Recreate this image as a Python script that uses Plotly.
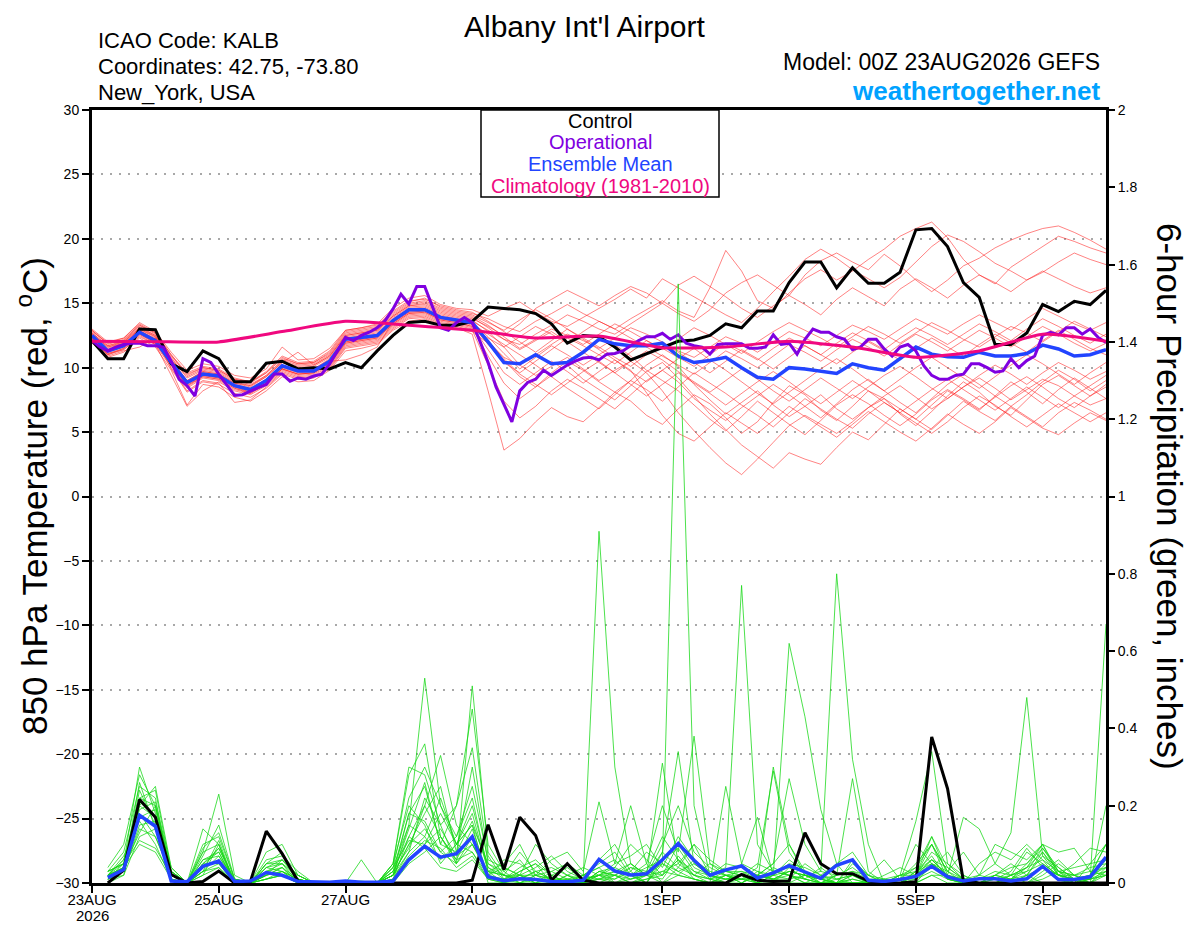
import plotly.graph_objects as go

# ---------------- time axes (hours from 00Z 23AUG2026) ----------------
HOURS_6 = list(range(0, 385, 6))          # 65 steps, temperature
HOURS_PCP = list(range(6, 385, 6))        # 64 steps, 6-hour precip
HOURS_3 = list(range(0, 385, 3))          # 129 steps, operational
HOURS_CLIM = list(range(0, 385, 24))      # daily climatology

TICK_HOURS = [0, 48, 96, 144, 216, 264, 312, 360]
TICK_TEXT = ["23AUG", "25AUG", "27AUG", "29AUG", "1SEP", "3SEP", "5SEP", "7SEP"]
YEAR_TEXT = "2026"
T_TICKS = list(range(-30, 31, 5))
P_TICKS = [0, 0.2, 0.4, 0.6, 0.8, 1.0, 1.2, 1.4, 1.6, 1.8, 2.0]
P_TICKTEXT = ["0", "0.2", "0.4", "0.6", "0.8", "1", "1.2", "1.4", "1.6", "1.8", "2"]

# ---------------- 850 hPa temperature ----------------
CONTROL_T = [12.1, 10.7, 10.7, 13.0, 12.95, 10.3, 9.7, 11.3,
             10.7, 8.9, 8.9, 10.35, 10.5, 9.9, 10.0, 9.9,
             10.4, 10.0, 11.3, 12.5, 13.5, 13.6, 13.3, 13.3,
             13.6, 14.7, 14.6, 14.5, 14.2, 13.4, 11.9, 12.5,
             12.4, 11.6, 10.6, 11.1, 11.6, 12.05, 12.15, 12.5,
             13.4, 13.1, 14.4, 14.4, 16.6, 18.2, 18.2, 16.2,
             17.75, 16.55, 16.55, 17.4, 20.7, 20.8, 19.4, 16.6,
             15.45, 11.8, 11.8, 12.7, 14.9, 14.35, 15.15, 14.9,
             16.0]

MEAN_T = [12.5, 11.3, 11.7, 12.75, 12.1, 10.4, 8.85, 9.5,
          9.35, 8.6, 8.3, 9.0, 10.15, 9.75, 9.75, 10.5,
          12.2, 12.35, 12.5, 13.65, 14.5, 14.5, 13.9, 13.7,
          13.5, 12.0, 10.4, 10.3, 11.0, 10.3, 10.4, 11.2,
          12.2, 11.85, 11.7, 11.7, 11.9, 10.9, 10.4, 10.55,
          10.8, 10.0, 9.25, 9.1, 10.0, 9.9, 9.75, 9.55,
          10.3, 10.0, 9.8, 10.7, 11.6, 11.05, 10.85, 10.8,
          11.2, 10.9, 10.9, 11.1, 11.75, 11.45, 10.9, 11.0,
          11.4]

OPER_T = [12.1, 11.6, 11.3, 11.6, 11.8, 11.9, 11.9, 11.7,
          11.7, 11.6, 10.5, 9.1, 8.6, 7.8, 10.7, 10.4,
          9.5, 8.7, 7.85, 7.9, 8.2, 8.45, 8.7, 9.5,
          9.5, 8.95, 9.2, 9.1, 9.35, 9.5, 10.3, 11.3,
          12.35, 12.1, 12.5, 12.75, 13.1, 13.65, 14.56, 15.7,
          14.95, 16.3, 16.3, 14.7, 13.1, 12.9, 13.5, 13.9,
          13.5, 12.0, 10.4, 8.5, 7.2, 5.8, 8.2, 8.85,
          9.1, 9.8, 9.4, 9.8, 10.2, 10.5, 10.75, 10.8,
          10.6, 11.05, 11.1, 11.3, 11.7, 12.1, 12.4, 12.4,
          12.67, 12.2, 12.55, 11.9, 11.7, 11.6, 11.05, 11.8,
          11.85, 11.85, 11.85, 11.5, 11.5, 11.6, 12.55, 11.8,
          11.9, 11.05, 12.2, 13.0, 12.75, 12.75, 12.4, 12.2,
          11.4, 11.6, 12.2, 12.2, 11.45, 10.9, 11.6, 11.8,
          11.3, 10.15, 9.4, 9.1, 9.1, 9.4, 9.5, 10.3,
          10.3, 10.0, 9.65, 9.75, 10.7, 10.0, 10.55, 10.9,
          12.5, 12.75, 12.55, 13.1, 13.1, 12.6, 13.0, 12.35,
          11.95]

CLIM_T = [12.05, 12.02, 12.0, 12.8, 13.6, 13.3, 12.9, 12.3, 12.45,
          11.55, 11.6, 12.05, 11.6, 10.8, 11.3, 12.6, 12.05]

T_M01 = [12.9, 11.8, 12.2, 13.3, 12.6, 10.9, 9.5, 10.0, 9.8, 9.1, 8.8, 9.6, 10.8, 10.3, 10.4, 11.2,
         12.8, 13.0, 13.2, 14.3, 15.1, 15.4, 14.7, 14.4, 14.2, 13.8, 13.2, 12.8, 13.6, 14.2, 14.9, 14.2,
         13.6, 13.0, 13.8, 14.5, 15.2, 14.4, 13.9, 16.2, 19.1, 17.5, 15.2, 14.6, 15.8, 16.9, 17.6, 16.8,
         17.5, 18.4, 19.2, 20.2, 20.8, 21.3, 20.1, 18.4, 17.2, 16.5, 17.8, 18.6, 19.4, 20.2, 19.8, 19.3, 18.9]
T_M02 = [12.6, 11.6, 12.0, 13.1, 12.4, 10.6, 9.0, 9.7, 9.5, 8.8, 8.5, 9.3, 10.4, 11.2, 10.2, 10.9,
         12.5, 12.7, 12.9, 14.0, 14.8, 14.9, 14.3, 14.0, 13.8, 13.2, 12.5, 13.4, 14.6, 15.3, 16.0, 15.4,
         14.8, 15.6, 16.3, 15.8, 15.0, 14.2, 13.6, 14.5, 15.8, 16.6, 17.2, 16.4, 15.6, 17.2, 18.3, 18.9,
         18.2, 17.6, 18.8, 17.9, 16.8, 15.9, 16.8, 17.9, 18.5, 19.3, 19.9, 20.4, 20.8, 21.0, 20.5, 19.9, 19.2]
T_M03 = [13.0, 12.0, 12.3, 13.5, 12.8, 11.2, 9.8, 10.3, 10.1, 9.4, 9.2, 9.9, 11.6, 10.6, 10.7, 11.5,
         12.9, 13.1, 13.4, 14.6, 15.4, 15.6, 14.9, 14.6, 14.5, 14.0, 14.6, 15.1, 14.3, 13.6, 13.2, 13.9,
         14.6, 15.3, 16.1, 15.4, 16.9, 16.2, 15.5, 14.8, 14.1, 13.5, 14.6, 15.9, 17.1, 18.4, 19.2, 18.5,
         17.6, 16.9, 16.2, 17.0, 18.2, 19.4, 20.3, 19.8, 19.0, 18.1, 17.5, 16.8, 17.4, 18.2, 18.9, 18.4, 18.0]
T_M04 = [12.4, 11.4, 11.8, 12.9, 12.2, 10.5, 8.9, 9.6, 9.4, 8.7, 8.4, 9.1, 10.2, 9.8, 9.9, 10.7,
         12.3, 12.5, 12.7, 13.8, 14.6, 14.7, 14.1, 13.8, 13.6, 12.9, 12.2, 11.8, 12.6, 13.3, 14.1, 13.6,
         13.0, 12.6, 13.4, 14.2, 15.0, 16.4, 17.1, 16.3, 15.5, 14.6, 13.9, 14.8, 15.6, 14.9, 14.1, 15.3,
         16.2, 15.5, 14.8, 16.1, 16.9, 16.2, 15.4, 16.4, 17.2, 16.6, 15.9, 16.8, 17.5, 16.9, 16.3, 15.8, 16.2]
T_M05 = [12.2, 11.1, 11.5, 12.6, 11.9, 10.2, 8.6, 9.3, 9.1, 8.4, 8.0, 8.8, 9.9, 9.5, 9.6, 10.3,
         11.9, 12.1, 12.3, 13.4, 14.2, 14.3, 13.7, 13.5, 13.2, 12.0, 10.8, 10.2, 11.0, 11.8, 12.6, 12.1,
         11.5, 12.3, 13.1, 12.6, 12.0, 11.3, 10.8, 11.6, 12.4, 11.9, 11.2, 12.0, 12.8, 12.3, 11.7, 12.5,
         13.3, 12.8, 12.2, 13.0, 13.8, 13.2, 12.6, 13.4, 14.1, 13.5, 12.9, 13.8, 14.6, 14.0, 13.4, 12.9, 13.5]
T_M06 = [12.7, 11.7, 12.1, 13.2, 12.5, 10.7, 9.3, 9.9, 9.7, 9.0, 8.7, 9.4, 10.6, 10.2, 10.3, 11.0,
         12.6, 12.8, 13.0, 14.1, 14.9, 15.1, 14.5, 14.2, 14.0, 13.3, 12.4, 11.5, 12.2, 13.0, 12.5, 11.8,
         12.6, 13.4, 12.8, 12.1, 11.4, 12.2, 13.1, 12.5, 11.8, 11.1, 12.0, 12.8, 13.5, 12.9, 12.3, 11.6,
         12.4, 13.2, 12.6, 11.9, 12.7, 13.5, 12.9, 12.2, 11.6, 12.4, 13.2, 12.7, 12.0, 12.8, 13.6, 13.0, 12.4]
T_M07 = [12.3, 11.2, 11.6, 12.7, 12.0, 10.3, 8.7, 9.4, 9.2, 8.5, 8.2, 8.9, 10.0, 9.6, 9.7, 10.4,
         12.0, 12.2, 12.4, 13.5, 14.3, 14.4, 13.8, 13.6, 13.3, 11.8, 10.4, 9.6, 10.5, 11.4, 12.3, 11.7,
         11.0, 10.3, 11.2, 12.1, 11.5, 10.8, 10.1, 11.0, 11.9, 11.3, 10.6, 11.5, 12.3, 11.7, 11.0, 11.9,
         12.7, 12.1, 11.4, 12.3, 13.1, 12.5, 11.8, 12.6, 13.4, 12.8, 12.1, 13.0, 13.8, 13.2, 12.5, 11.9, 12.6]
T_M08 = [12.1, 11.0, 11.4, 12.5, 11.8, 9.4, 7.0, 8.2, 8.9, 8.2, 7.9, 8.6, 9.7, 9.3, 9.4, 10.1,
         11.7, 11.9, 12.1, 13.2, 14.0, 14.1, 13.5, 13.3, 13.0, 12.3, 11.6, 12.4, 13.2, 12.6, 11.9, 12.8,
         13.6, 13.0, 12.3, 11.6, 10.9, 10.2, 9.5, 10.4, 11.3, 10.7, 10.0, 10.9, 11.8, 11.2, 10.5, 11.4,
         12.2, 11.6, 10.9, 11.8, 12.6, 12.0, 11.3, 12.1, 12.9, 12.3, 11.6, 12.4, 13.2, 12.6, 11.9, 11.3, 11.9]
T_M09 = [12.8, 11.9, 12.3, 13.4, 12.7, 11.0, 9.6, 10.1, 9.9, 9.2, 8.9, 9.7, 10.9, 10.4, 10.5, 11.3,
         12.9, 13.1, 13.3, 14.4, 15.2, 15.3, 14.8, 14.5, 14.3, 13.6, 12.8, 12.0, 11.2, 12.1, 13.0, 12.3,
         11.6, 10.8, 10.1, 11.0, 11.9, 11.2, 10.4, 9.6, 10.5, 11.4, 10.7, 9.9, 10.8, 11.7, 11.0, 10.3,
         11.2, 12.0, 11.3, 10.6, 11.5, 12.3, 11.6, 10.9, 11.8, 12.6, 11.9, 11.2, 12.1, 12.9, 12.2, 11.5, 11.0]
T_M10 = [12.0, 10.9, 11.3, 11.6, 12.3, 9.9, 8.1, 8.9, 8.7, 8.0, 7.7, 8.4, 9.5, 9.1, 9.2, 9.9,
         11.5, 11.7, 11.9, 13.0, 13.8, 13.9, 13.3, 13.1, 12.6, 8.2, 3.6, 4.5, 5.8, 6.9, 6.2, 5.8,
         6.9, 8.1, 7.4, 6.3, 5.6, 6.8, 7.9, 7.2, 6.1, 4.9, 5.8, 7.3, 8.6, 7.9, 6.7, 5.9,
         7.0, 8.2, 7.6, 6.4, 5.5, 6.6, 7.8, 8.9, 8.1, 7.0, 6.3, 7.5, 8.7, 9.4, 8.6, 7.8, 8.5]
T_M11 = [12.5, 11.5, 11.9, 13.0, 12.3, 10.6, 9.0, 9.7, 9.5, 8.8, 8.6, 9.3, 10.4, 10.0, 10.1, 10.8,
         12.4, 12.6, 12.8, 13.9, 14.7, 14.8, 14.2, 13.9, 13.7, 12.8, 11.6, 10.2, 9.4, 10.1, 10.8, 9.9,
         9.0, 9.8, 10.5, 9.6, 8.2, 6.5, 5.1, 3.8, 2.6, 1.7, 2.9, 4.2, 5.5, 6.3, 5.6, 4.9,
         5.8, 6.9, 7.6, 6.8, 6.0, 7.1, 8.2, 7.5, 6.7, 7.8, 8.9, 8.1, 7.2, 8.3, 9.2, 8.4, 7.6]
T_M12 = [11.9, 10.8, 11.2, 12.3, 11.6, 9.8, 7.1, 8.7, 8.5, 7.7, 7.4, 8.2, 9.3, 8.9, 9.0, 9.8,
         11.3, 11.5, 11.8, 12.9, 13.6, 13.8, 13.2, 13.0, 12.8, 11.9, 10.6, 9.3, 8.5, 9.4, 10.2, 9.1,
         8.3, 7.5, 8.6, 9.7, 10.4, 9.2, 7.8, 6.4, 5.2, 4.0, 3.1, 2.2, 3.4, 2.9, 2.5, 3.8,
         5.0, 4.4, 5.6, 6.8, 6.0, 5.2, 6.3, 7.4, 6.6, 5.9, 7.0, 6.2, 5.4, 6.5, 7.3, 6.7, 6.0]
T_M13 = [12.2, 11.0, 11.5, 12.6, 11.9, 10.1, 8.4, 9.2, 9.0, 8.3, 8.0, 8.7, 9.8, 9.4, 9.5, 10.2,
         11.8, 12.0, 12.2, 13.3, 14.1, 14.2, 13.6, 13.4, 13.1, 10.9, 8.8, 7.6, 8.5, 9.6, 10.5, 9.8,
         8.9, 8.1, 9.0, 10.2, 11.0, 10.1, 8.7, 7.5, 6.4, 7.3, 8.2, 7.1, 6.2, 7.0, 7.9, 6.8,
         6.0, 6.9, 7.8, 8.6, 7.7, 6.8, 7.6, 8.5, 9.2, 8.4, 7.5, 8.3, 9.1, 8.6, 7.8, 7.1, 7.6]
T_M14 = [12.6, 11.6, 11.9, 13.0, 12.4, 10.5, 8.8, 9.6, 9.4, 8.6, 8.3, 9.1, 10.2, 9.8, 9.9, 10.6,
         12.2, 12.4, 12.6, 13.7, 14.5, 14.6, 14.0, 13.7, 13.5, 12.4, 11.1, 9.9, 10.8, 11.7, 11.0, 10.2,
         11.0, 11.8, 10.9, 9.8, 9.0, 8.2, 7.1, 6.0, 5.1, 6.2, 7.4, 6.5, 5.6, 4.8, 5.9, 7.1,
         7.9, 7.2, 6.3, 5.5, 6.4, 7.5, 8.3, 7.6, 6.8, 7.7, 8.6, 9.3, 8.5, 7.6, 6.9, 7.8, 8.7]
T_M15 = [12.1, 11.1, 11.4, 12.4, 11.8, 10.0, 8.2, 9.0, 8.8, 7.3, 7.5, 8.5, 9.6, 9.2, 9.3, 10.0,
         11.6, 11.8, 12.0, 13.1, 13.9, 14.0, 13.4, 13.2, 12.9, 10.2, 7.4, 6.1, 7.0, 8.2, 9.1, 8.4,
         7.6, 6.8, 7.9, 9.0, 9.8, 8.9, 7.6, 6.7, 5.9, 6.9, 7.8, 8.7, 7.9, 7.0, 6.1, 7.2,
         8.3, 9.1, 8.2, 7.3, 6.5, 7.6, 8.7, 9.5, 8.7, 7.8, 7.0, 7.9, 8.9, 9.8, 9.1, 8.2, 9.0]
T_M16 = [12.4, 11.3, 11.7, 12.8, 12.1, 10.4, 8.6, 9.4, 9.2, 8.5, 8.1, 8.8, 9.9, 9.5, 9.6, 10.4,
         12.0, 12.2, 12.4, 13.5, 14.3, 14.4, 13.8, 13.6, 13.4, 12.6, 11.8, 11.0, 10.2, 9.3, 8.4, 7.6,
         6.8, 7.9, 9.0, 8.3, 7.4, 8.5, 9.6, 8.8, 8.0, 7.1, 6.3, 5.4, 6.5, 7.6, 6.8, 6.0,
         5.3, 6.4, 7.3, 6.5, 5.7, 4.9, 5.8, 6.9, 7.8, 7.1, 6.2, 5.4, 6.3, 7.2, 6.5, 5.8, 6.5]
T_M17 = [12.7, 11.7, 12.0, 13.1, 12.5, 10.8, 9.2, 9.8, 9.6, 8.9, 8.6, 9.4, 10.5, 10.1, 10.2, 10.9,
         12.5, 12.7, 12.9, 14.0, 14.8, 15.0, 14.4, 14.1, 13.9, 13.1, 12.2, 11.4, 12.1, 12.8, 12.0, 11.2,
         10.4, 9.6, 10.5, 11.3, 10.6, 9.7, 8.9, 8.1, 9.0, 9.9, 9.1, 8.2, 7.4, 8.3, 9.2, 8.4,
         7.6, 8.5, 9.4, 10.1, 9.3, 8.4, 7.6, 8.5, 9.4, 10.2, 9.5, 8.7, 9.6, 10.4, 9.8, 9.1, 9.7]
T_M18 = [12.3, 11.3, 11.6, 12.7, 12.0, 10.2, 8.5, 9.3, 9.1, 8.4, 8.1, 8.8, 9.9, 9.5, 9.6, 10.3,
         11.9, 12.1, 12.3, 13.4, 14.2, 14.3, 13.7, 13.5, 13.2, 11.4, 9.6, 8.7, 9.6, 10.5, 9.7, 8.8,
         9.7, 10.6, 9.8, 8.1, 6.3, 4.9, 4.3, 5.4, 6.5, 5.7, 4.9, 5.9, 7.0, 6.2, 5.4, 4.6,
         5.6, 6.6, 5.8, 5.0, 4.3, 5.3, 6.4, 5.6, 4.9, 5.8, 6.9, 6.1, 5.3, 4.8, 5.7, 6.5, 5.9]
T_M19 = [12.5, 11.4, 11.8, 12.9, 12.2, 10.5, 8.8, 9.5, 9.3, 8.6, 8.3, 9.0, 10.1, 9.7, 9.8, 10.5,
         10.6, 11.0, 11.6, 13.6, 14.4, 14.5, 13.9, 13.7, 13.4, 12.1, 10.7, 9.5, 8.7, 7.9, 8.8, 9.7,
         10.5, 9.6, 8.7, 7.8, 8.7, 9.6, 8.8, 8.0, 7.1, 8.0, 8.9, 9.7, 8.9, 8.0, 7.2, 8.1,
         9.0, 8.2, 7.3, 6.5, 7.4, 8.3, 9.1, 8.3, 7.5, 6.7, 7.6, 8.5, 7.7, 6.9, 7.8, 8.6, 9.4]
T_M20 = [12.9, 11.9, 12.1, 13.3, 12.7, 11.0, 9.4, 10.0, 9.8, 9.1, 8.9, 9.6, 10.7, 10.3, 10.4, 11.1,
         12.7, 12.9, 13.1, 14.2, 15.0, 15.2, 14.6, 14.3, 14.1, 13.5, 12.9, 13.7, 14.5, 13.8, 13.0, 12.2,
         11.4, 10.6, 9.7, 8.9, 9.8, 10.7, 11.5, 10.6, 9.8, 8.9, 8.0, 7.2, 8.1, 9.0, 9.9, 10.7,
         9.9, 9.0, 8.2, 9.1, 10.0, 10.8, 10.0, 9.2, 8.4, 9.3, 10.2, 11.0, 10.3, 9.5, 8.7, 9.6, 10.4]

# ---------------- 6-hour precipitation (inches) ----------------
CONTROL_P = [0.0, 0.033, 0.216, 0.17, 0.022, 0.0, 0.004, 0.031,
             0.0, 0.004, 0.134, 0.076, 0.005, 0.0, 0.0, 0.0,
             0.0, 0.0, 0.0, 0.0, 0.0, 0.0, 0.0, 0.007,
             0.151, 0.035, 0.17, 0.123, 0.007, 0.05, 0.007, 0.0,
             0.0, 0.0, 0.0, 0.0, 0.0, 0.0, 0.0, 0.0,
             0.022, 0.007, 0.004, 0.005, 0.13, 0.05, 0.024, 0.024,
             0.005, 0.0, 0.0, 0.003, 0.378, 0.244, 0.005, 0.0,
             0.0, 0.0, 0.0, 0.0, 0.0, 0.0, 0.0, 0.0]

MEAN_P = [0.014, 0.035, 0.175, 0.147, 0.005, 0.003, 0.043, 0.057,
          0.004, 0.005, 0.027, 0.02, 0.004, 0.002, 0.002, 0.005,
          0.002, 0.002, 0.005, 0.06, 0.095, 0.067, 0.076, 0.12,
          0.016, 0.006, 0.011, 0.009, 0.004, 0.003, 0.007, 0.061,
          0.031, 0.021, 0.024, 0.06, 0.102, 0.059, 0.02, 0.034,
          0.044, 0.013, 0.026, 0.045, 0.028, 0.012, 0.046, 0.06,
          0.007, 0.004, 0.009, 0.017, 0.043, 0.016, 0.005, 0.011,
          0.011, 0.005, 0.011, 0.043, 0.009, 0.009, 0.016, 0.067]

P_M01 = [0.01, 0.05, 0.30, 0.18, 0.02, 0, 0.05, 0.08, 0, 0, 0.03, 0.05, 0, 0, 0, 0,
         0, 0, 0.02, 0.15, 0.53, 0.2, 0.1, 0.08, 0.02, 0, 0.03, 0.05, 0, 0, 0, 0.02,
         0, 0, 0.02, 0.05, 0.03, 0.01, 0, 0, 0, 0.02, 0.05, 0.1, 0.03, 0, 0, 0,
         0, 0, 0, 0.02, 0.1, 0.03, 0, 0, 0, 0, 0.02, 0.08, 0.03, 0, 0.01, 0.05]
P_M02 = [0.03, 0.08, 0.25, 0.22, 0.01, 0, 0.1, 0.12, 0.01, 0, 0.05, 0.08, 0.01, 0, 0, 0,
         0, 0, 0.05, 0.28, 0.36, 0.12, 0.05, 0.51, 0.08, 0.02, 0, 0, 0.02, 0.04, 0.01, 0.91,
         0.3, 0.05, 0.02, 0, 0.02, 0.06, 0.01, 0, 0.02, 0, 0, 0, 0, 0.02, 0.05, 0.08,
         0.02, 0, 0, 0, 0.05, 0.02, 0, 0, 0, 0, 0, 0.03, 0.06, 0.02, 0, 0.02]
P_M03 = [0.02, 0.04, 0.22, 0.2, 0.03, 0, 0.08, 0.23, 0.02, 0, 0.02, 0.04, 0, 0, 0, 0,
         0, 0, 0.03, 0.12, 0.2, 0.33, 0.15, 0.1, 0.03, 0.05, 0.1, 0.02, 0, 0, 0.02, 0.05,
         0.08, 0.02, 0, 0.05, 1.55, 0.2, 0.02, 0, 0.05, 0.03, 0.01, 0, 0.02, 0, 0, 0,
         0, 0, 0.01, 0.04, 0.12, 0.02, 0, 0.02, 0.05, 0.02, 0, 0, 0, 0.01, 0.02, 0.1]
P_M04 = [0, 0.02, 0.2, 0.25, 0.04, 0, 0.14, 0.1, 0, 0, 0.08, 0.1, 0.02, 0, 0, 0,
         0, 0, 0.05, 0.3, 0.28, 0.15, 0.2, 0.45, 0.1, 0.03, 0, 0.02, 0.06, 0.08, 0.03, 0.21,
         0.05, 0.2, 0.05, 0, 0.04, 0.1, 0.02, 0.04, 0.77, 0.1, 0.03, 0.02, 0, 0, 0, 0.05,
         0.02, 0.01, 0, 0.03, 0.05, 0.01, 0, 0, 0, 0.02, 0.04, 0.1, 0.08, 0.09, 0.03, 0.02]
P_M05 = [0.02, 0.06, 0.18, 0.12, 0.02, 0, 0.04, 0.06, 0, 0, 0.06, 0.07, 0.03, 0, 0, 0,
         0.06, 0, 0.02, 0.1, 0.18, 0.25, 0.08, 0.3, 0.05, 0.02, 0.08, 0.03, 0.01, 0, 0, 0.03,
         0.02, 0.05, 0.02, 0.31, 0.05, 0.02, 0, 0.25, 0.05, 0.17, 0.02, 0.62, 0.43, 0.19, 0.05, 0,
         0, 0, 0, 0.02, 0.04, 0.08, 0.02, 0, 0, 0, 0, 0.02, 0.05, 0.02, 0, 0.2]
P_M06 = [0.01, 0.03, 0.15, 0.16, 0.02, 0, 0.06, 0.07, 0.01, 0, 0.01, 0.02, 0, 0, 0, 0,
         0, 0, 0.01, 0.08, 0.12, 0.06, 0.1, 0.15, 0, 0, 0.02, 0.1, 0.05, 0.02, 0, 0.06,
         0.1, 0.03, 0, 0.08, 0.34, 0.05, 0.02, 0.01, 0.02, 0, 0.3, 0.1, 0.02, 0.03, 0.8, 0.32,
         0.1, 0, 0, 0, 0.02, 0, 0, 0, 0.02, 0.05, 0.02, 0, 0, 0, 0.05, 0.1]
P_M07 = [0.04, 0.1, 0.28, 0.2, 0.03, 0, 0.03, 0.05, 0, 0, 0.02, 0.03, 0, 0, 0, 0,
         0.005, 0, 0.04, 0.22, 0.3, 0.2, 0.12, 0.25, 0.06, 0.04, 0.02, 0, 0.03, 0.05, 0.02, 0.04,
         0, 0.02, 0.05, 0.2, 0.08, 0.38, 0.05, 0.02, 0, 0.02, 0.05, 0.27, 0.1, 0.03, 0.02, 0.27,
         0.03, 0, 0.02, 0.16, 0.34, 0.05, 0.01, 0, 0, 0, 0, 0.01, 0.03, 0.01, 0, 0.03]
P_M08 = [0.01, 0.02, 0.12, 0.14, 0.01, 0, 0.02, 0.04, 0, 0, 0.01, 0.02, 0, 0, 0, 0,
         0, 0, 0, 0.05, 0.08, 0.12, 0.06, 0.08, 0.01, 0, 0, 0.01, 0, 0.02, 0.01, 0.01,
         0.02, 0, 0.01, 0.02, 0.06, 0.01, 0, 0.02, 0.03, 0.01, 0, 0.04, 0.01, 0, 0, 0.02,
         0, 0, 0, 0, 0.02, 0.02, 0.17, 0.14, 0.05, 0.13, 0.48, 0.07, 0.02, 0, 0.01, 0.67]
P_M09 = [0.03, 0.05, 0.2, 0.17, 0.02, 0, 0.07, 0.15, 0.01, 0, 0.04, 0.06, 0.01, 0, 0, 0,
         0, 0, 0.03, 0.18, 0.25, 0.1, 0.2, 0.35, 0.07, 0.01, 0.04, 0.06, 0.02, 0, 0.01, 0.02,
         0.04, 0.1, 0.06, 0.02, 0.1, 0.04, 0.02, 0.01, 0.01, 0.04, 0.29, 0.08, 0.02, 0.01, 0, 0.06,
         0.02, 0.06, 0.01, 0.05, 0.1, 0.03, 0.08, 0.02, 0.1, 0.08, 0.06, 0.1, 0.02, 0.05, 0.09, 0.08]
P_M10 = [0.02, 0.07, 0.16, 0.1, 0.01, 0, 0.05, 0.09, 0, 0, 0.03, 0.04, 0, 0, 0, 0,
         0, 0, 0.02, 0.1, 0.14, 0.08, 0.05, 0.12, 0.02, 0.06, 0.05, 0.02, 0.01, 0, 0, 0.01,
         0, 0.01, 0.03, 0.12, 0.06, 0.03, 0.02, 0.05, 0.04, 0.02, 0.01, 0.03, 0.02, 0.01, 0, 0,
         0, 0.02, 0.04, 0.02, 0.06, 0.02, 0, 0.05, 0.08, 0.06, 0.1, 0.06, 0.03, 0.02, 0.04, 0.05]
P_M11 = [0.01, 0.03, 0.24, 0.15, 0.03, 0, 0.03, 0.11, 0, 0, 0.02, 0.06, 0.02, 0, 0, 0,
         0, 0, 0.02, 0.06, 0.1, 0.18, 0.1, 0.2, 0.04, 0.02, 0.01, 0, 0, 0.02, 0.04, 0.02,
         0.05, 0.07, 0.1, 0.04, 0.12, 0.06, 0.03, 0.02, 0.01, 0, 0.02, 0.05, 0.04, 0.02, 0, 0,
         0, 0, 0.01, 0.1, 0.05, 0.02, 0, 0.01, 0.02, 0.04, 0.05, 0.09, 0.03, 0.04, 0.05, 0.06]
P_M12 = [0.02, 0.04, 0.13, 0.2, 0.02, 0, 0.09, 0.13, 0.01, 0, 0.05, 0.05, 0.01, 0, 0, 0,
         0, 0, 0.05, 0.2, 0.15, 0.05, 0.1, 0.18, 0.03, 0, 0.02, 0.04, 0.07, 0.03, 0.01, 0,
         0.02, 0.04, 0.02, 0.1, 0.2, 0.08, 0.04, 0.02, 0.02, 0.05, 0.03, 0.04, 0.01, 0, 0.02, 0.04,
         0.01, 0, 0, 0.02, 0.08, 0.05, 0.02, 0, 0.01, 0.03, 0.09, 0.04, 0.02, 0.01, 0, 0.04]
P_M13 = [0.03, 0.05, 0.19, 0.21, 0.04, 0, 0.04, 0.06, 0, 0, 0.01, 0.03, 0, 0, 0, 0,
         0, 0, 0.02, 0.08, 0.22, 0.15, 0.05, 0.1, 0.02, 0.01, 0, 0.02, 0.03, 0.01, 0, 0.03,
         0.02, 0, 0.01, 0.03, 0.05, 0.1, 0.06, 0.03, 0.02, 0, 0.01, 0.03, 0.02, 0.01, 0.02, 0.03,
         0.01, 0, 0.02, 0.03, 0.06, 0.04, 0.01, 0, 0, 0.02, 0.08, 0.05, 0.02, 0.02, 0.03, 0.04]
P_M14 = [0.02, 0.06, 0.22, 0.24, 0.03, 0, 0.02, 0.1, 0, 0, 0.04, 0.05, 0.02, 0, 0, 0,
         0, 0, 0.04, 0.15, 0.12, 0.22, 0.1, 0.15, 0.05, 0.03, 0.06, 0.01, 0, 0, 0.02, 0.04,
         0.06, 0.02, 0.04, 0.06, 0.09, 0.03, 0.01, 0.02, 0, 0.03, 0.02, 0.01, 0.05, 0.02, 0.01, 0.02,
         0, 0, 0.02, 0.04, 0.1, 0.01, 0, 0, 0, 0.01, 0.03, 0.09, 0.04, 0.01, 0.02, 0.03]
P_M15 = [0.01, 0.04, 0.1, 0.08, 0.01, 0, 0.05, 0.05, 0, 0, 0.02, 0.03, 0.01, 0, 0, 0,
         0, 0, 0.01, 0.12, 0.09, 0.04, 0.03, 0.06, 0.01, 0, 0.01, 0.03, 0.04, 0.02, 0, 0.01,
         0.03, 0.05, 0.02, 0.01, 0.07, 0.02, 0.01, 0, 0.01, 0.01, 0.04, 0.02, 0, 0, 0.01, 0.02,
         0.01, 0.01, 0, 0.01, 0.04, 0.02, 0.01, 0, 0.02, 0.01, 0.04, 0.06, 0.01, 0, 0.02, 0.1]
P_M16 = [0.02, 0.03, 0.26, 0.14, 0.02, 0, 0.03, 0.07, 0, 0, 0.03, 0.02, 0, 0, 0, 0,
         0, 0, 0.02, 0.18, 0.16, 0.08, 0.12, 0.22, 0.03, 0.02, 0.02, 0, 0.01, 0.01, 0, 0.02,
         0.01, 0.03, 0.08, 0.05, 0.02, 0.01, 0, 0.02, 0.01, 0, 0.02, 0.06, 0.03, 0.01, 0, 0.01,
         0, 0.01, 0.02, 0.02, 0.12, 0.04, 0.01, 0.02, 0.01, 0, 0.02, 0.07, 0.04, 0.01, 0.01, 0.02]
P_M17 = [0.03, 0.05, 0.17, 0.19, 0.02, 0, 0.06, 0.08, 0, 0, 0.02, 0.04, 0.01, 0, 0, 0,
         0, 0, 0.03, 0.09, 0.2, 0.12, 0.06, 0.14, 0.02, 0.04, 0.02, 0.02, 0.01, 0, 0.01, 0.02,
         0.02, 0.01, 0.02, 0.08, 0.04, 0.02, 0.05, 0.03, 0.02, 0.01, 0.03, 0.02, 0.01, 0.04, 0.01, 0,
         0, 0.01, 0, 0.03, 0.07, 0.01, 0, 0.01, 0.03, 0.02, 0.04, 0.08, 0.02, 0.01, 0.01, 0.03]
P_M18 = [0.02, 0.04, 0.21, 0.17, 0.01, 0, 0.04, 0.09, 0.01, 0, 0.04, 0.03, 0.01, 0, 0, 0,
         0, 0, 0.02, 0.14, 0.26, 0.1, 0.08, 0.16, 0.04, 0.01, 0.03, 0.05, 0.02, 0, 0, 0.03,
         0.04, 0.02, 0, 0.06, 0.03, 0.05, 0.02, 0.01, 0.02, 0.01, 0.02, 0.03, 0.02, 0, 0.02, 0.03,
         0.02, 0, 0.01, 0.02, 0.06, 0.02, 0.01, 0, 0.02, 0.01, 0.05, 0.1, 0.03, 0.02, 0.01, 0.06]
P_M19 = [0.01, 0.03, 0.14, 0.12, 0.02, 0, 0.08, 0.1, 0, 0, 0.05, 0.06, 0.02, 0, 0, 0,
         0, 0, 0.04, 0.11, 0.1, 0.14, 0.07, 0.1, 0.03, 0.02, 0.01, 0.03, 0.01, 0.01, 0.02, 0.01,
         0.01, 0.04, 0.03, 0.02, 0.06, 0.02, 0.01, 0.03, 0.03, 0.02, 0.01, 0.01, 0.02, 0.01, 0, 0.02,
         0.01, 0, 0, 0.02, 0.05, 0.03, 0.01, 0.01, 0.01, 0.02, 0.03, 0.05, 0.02, 0.01, 0.02, 0.04]
P_M20 = [0.02, 0.05, 0.11, 0.09, 0.02, 0, 0.03, 0.04, 0, 0, 0.01, 0.02, 0, 0, 0, 0,
         0, 0, 0.01, 0.07, 0.11, 0.09, 0.04, 0.07, 0.01, 0.01, 0.02, 0.01, 0, 0.01, 0.01, 0.02,
         0.03, 0.01, 0.02, 0.03, 0.02, 0.01, 0, 0.01, 0.01, 0.02, 0.01, 0.02, 0.01, 0, 0, 0.01,
         0, 0, 0.01, 0.01, 0.03, 0.01, 0, 0, 0.01, 0.01, 0.02, 0.04, 0.02, 0.01, 0.01, 0.02]

TEMP_MEMBERS = [T_M01, T_M02, T_M03, T_M04, T_M05, T_M06, T_M07, T_M08, T_M09, T_M10,
                T_M11, T_M12, T_M13, T_M14, T_M15, T_M16, T_M17, T_M18, T_M19, T_M20]
PCP_MEMBERS = [P_M01, P_M02, P_M03, P_M04, P_M05, P_M06, P_M07, P_M08, P_M09, P_M10,
               P_M11, P_M12, P_M13, P_M14, P_M15, P_M16, P_M17, P_M18, P_M19, P_M20]

# ---------------- styling ----------------
FONT = "Liberation Sans, Arial, Helvetica, sans-serif"
RED = "rgba(255,30,30,0.62)"
GREEN = "rgba(20,215,20,0.85)"
BLACK = "#000000"
BLUE = "#2244FF"
PURPLE = "#8000E0"
PINK = "#F0087F"

fig = go.Figure()

for m in TEMP_MEMBERS:
    fig.add_trace(go.Scatter(x=HOURS_6, y=m, mode="lines", yaxis="y",
                             line=dict(color=RED, width=0.9), hoverinfo="skip"))
for m in PCP_MEMBERS:
    fig.add_trace(go.Scatter(x=HOURS_PCP, y=m, mode="lines", yaxis="y2",
                             line=dict(color=GREEN, width=0.9), hoverinfo="skip"))

# precipitation control / mean
fig.add_trace(go.Scatter(x=HOURS_PCP, y=CONTROL_P, mode="lines", yaxis="y2",
                         line=dict(color=BLACK, width=3)))
fig.add_trace(go.Scatter(x=HOURS_PCP, y=MEAN_P, mode="lines", yaxis="y2",
                         line=dict(color=BLUE, width=3.5)))

# temperature control / mean / operational / climatology
fig.add_trace(go.Scatter(x=HOURS_6, y=CONTROL_T, mode="lines", yaxis="y",
                         line=dict(color=BLACK, width=3)))
fig.add_trace(go.Scatter(x=HOURS_6, y=MEAN_T, mode="lines", yaxis="y",
                         line=dict(color=BLUE, width=3.5)))
fig.add_trace(go.Scatter(x=HOURS_3, y=OPER_T, mode="lines", yaxis="y",
                         line=dict(color=PURPLE, width=3)))
fig.add_trace(go.Scatter(x=HOURS_CLIM, y=CLIM_T, mode="lines", yaxis="y",
                         line=dict(color=PINK, width=3, shape="spline", smoothing=0.5)))

# The page places the figure 8 px from the top-left corner of the window,
# so the figure is sized to leave that offset and keep the plot area at
# screen x 92..1106, y 110..883.
OFF = 8
SCREEN_L, SCREEN_R, SCREEN_T, SCREEN_B = 92, 1106, 110, 883
W, H = 1184, 919
L = SCREEN_L - OFF
T = SCREEN_T - OFF
PW = SCREEN_R - SCREEN_L
PH = SCREEN_B - SCREEN_T
R = W - L - PW
B = H - T - PH


def px(xpix):
    return (xpix - SCREEN_L) / PW


def py(ypix):
    return (SCREEN_B - ypix) / PH


fig.update_layout(
    width=W, height=H,
    margin=dict(l=L, r=R, t=T, b=B, autoexpand=False),
    paper_bgcolor="white", plot_bgcolor="white",
    showlegend=False,
    font=dict(family=FONT, color="black"),
    xaxis=dict(range=[0, 384], tickvals=TICK_HOURS, ticktext=TICK_TEXT,
               ticks="outside", ticklen=7, tickwidth=1.5, tickcolor="black",
               tickfont=dict(size=15, family=FONT), ticklabelstandoff=-6,
               showline=True, linewidth=3, linecolor="black", mirror=True,
               showgrid=False, zeroline=False),
    yaxis=dict(range=[-30, 30], tickvals=T_TICKS,
               ticks="outside", ticklen=7, tickwidth=1.5, tickcolor="black",
               tickfont=dict(size=14, family=FONT),
               showline=True, linewidth=3, linecolor="black", mirror=True,
               showgrid=True, gridcolor="#a8a8a8", gridwidth=1.5, griddash="2px,7px",
               zeroline=False),
    yaxis2=dict(range=[0, 2], tickvals=P_TICKS, ticktext=P_TICKTEXT,
                overlaying="y", side="right",
                ticks="outside", ticklen=6, tickwidth=1.5, tickcolor="black",
                tickfont=dict(size=14, family=FONT),
                showline=True, linewidth=3, linecolor="black",
                showgrid=False, zeroline=False),
)

# legend box
fig.add_shape(type="rect", xref="paper", yref="paper",
              x0=px(481), x1=px(719), y0=py(197), y1=py(110),
              line=dict(color="black", width=1.5), fillcolor="white", layer="above")
legend_items = [("Control", BLACK, 121), ("Operational", PURPLE, 142),
                ("Ensemble Mean", BLUE, 164), ("Climatology (1981-2010)", PINK, 186)]
annotations = []
for txt, col, yy in legend_items:
    annotations.append(dict(text=txt, x=px(600), y=py(yy), xref="paper", yref="paper",
                            xanchor="center", yanchor="middle", showarrow=False,
                            font=dict(size=20, color=col, family=FONT)))

annotations += [
    dict(text="Albany Int'l Airport", x=px(585), y=py(26), xref="paper", yref="paper",
         xanchor="center", yanchor="middle", showarrow=False,
         font=dict(size=30, family=FONT, color="black")),
    dict(text="ICAO Code: KALB", x=px(96), y=py(41), xref="paper", yref="paper",
         xanchor="left", yanchor="middle", showarrow=False,
         font=dict(size=22, family=FONT, color="black")),
    dict(text="Coordinates: 42.75, -73.80", x=px(96), y=py(67), xref="paper", yref="paper",
         xanchor="left", yanchor="middle", showarrow=False,
         font=dict(size=22, family=FONT, color="black")),
    dict(text="New_York, USA", x=px(96), y=py(93), xref="paper", yref="paper",
         xanchor="left", yanchor="middle", showarrow=False,
         font=dict(size=22, family=FONT, color="black")),
    dict(text="Model: 00Z 23AUG2026 GEFS", x=px(1102), y=py(62), xref="paper", yref="paper",
         xanchor="right", yanchor="middle", showarrow=False,
         font=dict(size=23, family=FONT, color="black")),
    dict(text="<b>weathertogether.net</b>", x=px(1102), y=py(91), xref="paper", yref="paper",
         xanchor="right", yanchor="middle", showarrow=False,
         font=dict(size=26, family=FONT, color="#00A2FF")),
    dict(text=YEAR_TEXT, x=px(92), y=py(916), xref="paper", yref="paper",
         xanchor="center", yanchor="middle", showarrow=False,
         font=dict(size=15, family=FONT, color="black")),
    dict(text="850 hPa Temperature (red, <sup>o</sup>C)", x=px(32), y=py(496),
         xref="paper", yref="paper", xanchor="center", yanchor="middle",
         textangle=-90, showarrow=False,
         font=dict(size=35, family=FONT, color="black")),
    dict(text="6-hour Precipitation (green, inches)", x=px(1170), y=py(496),
         xref="paper", yref="paper", xanchor="center", yanchor="middle",
         textangle=90, showarrow=False,
         font=dict(size=35, family=FONT, color="black")),
]
fig.update_layout(annotations=annotations)

fig.write_html("out.html")
